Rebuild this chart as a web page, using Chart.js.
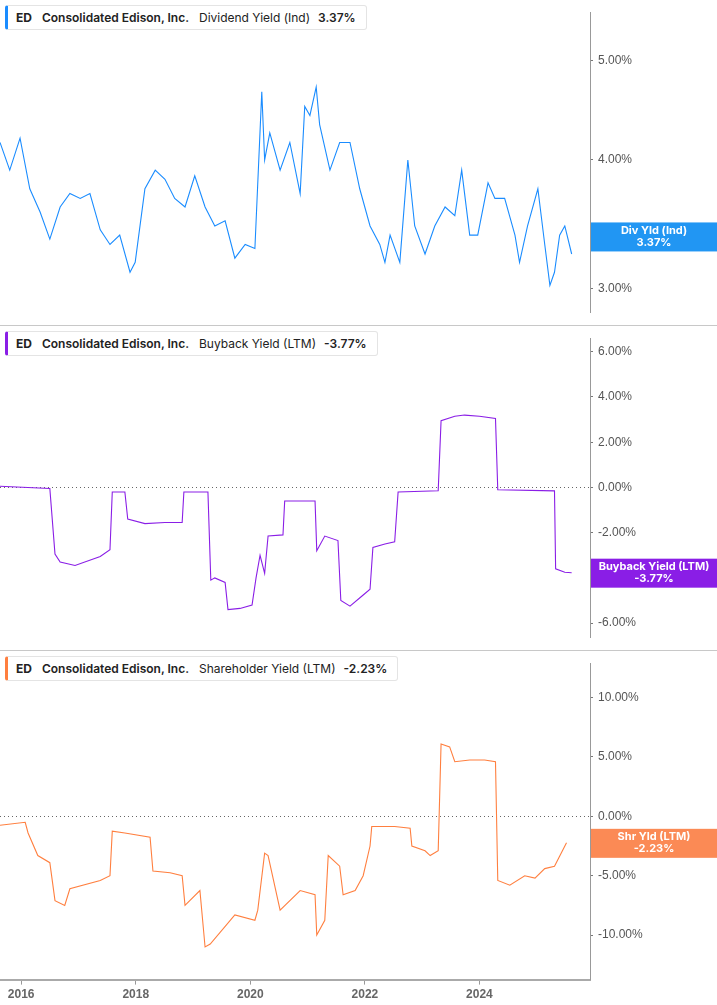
<!DOCTYPE html>
<html>
<head>
<meta charset="utf-8">
<script src="https://cdn.jsdelivr.net/npm/chart.js@4"></script>
<style>
  body { margin: 0; background: #fff; font-family: Inter, "Noto Sans", sans-serif; }
  .panel { position: relative; width: 717px; }
  .sep { border-top: 1px solid #c8c8c8; }
  .legend { position: absolute; left: 5px; top: 5px; background: #fff; border: 1px solid #e4e4e4;
    border-left: 3px solid; border-radius: 3px; padding: 4px 10px 4px 8px; font-size: 12px; color: #222; white-space: nowrap; }
  .legend b { font-weight: 700; margin-right: 10px; }
  .legend .co { font-weight: 600; margin-right: 10px; }
  .legend .m { margin-right: 8px; }
  .legend .v { font-weight: 600; }
</style>
</head>
<body>
<div class="panel"><canvas id="c1"></canvas>
  <div class="legend" style="border-left-color:#1a8cff"><b>ED</b><span class="co">Consolidated Edison, Inc.</span><span class="m">Dividend Yield (Ind)</span><span class="v">3.37%</span></div></div>
<div class="panel sep"><canvas id="c2"></canvas>
  <div class="legend" style="border-left-color:#8a1ee6"><b>ED</b><span class="co">Consolidated Edison, Inc.</span><span class="m">Buyback Yield (LTM)</span><span class="v">-3.77%</span></div></div>
<div class="panel sep"><canvas id="c3"></canvas>
  <div class="legend" style="border-left-color:#ff7f3f"><b>ED</b><span class="co">Consolidated Edison, Inc.</span><span class="m">Shareholder Yield (LTM)</span><span class="v">-2.23%</span></div></div>
<script>
// decimal years and yields (%)
const divYears = [2015.63,2015.80,2015.98,2016.15,2016.33,2016.50,2016.68,2016.85,2017.03,2017.20,2017.38,2017.55,2017.72,2017.90,2017.99,2018.16,2018.34,2018.51,2018.68,2018.86,2019.03,2019.21,2019.38,2019.56,2019.73,2019.91,2020.08,2020.20,2020.25,2020.34,2020.52,2020.69,2020.87,2020.95,2021.04,2021.15,2021.21,2021.39,2021.56,2021.74,2021.91,2022.09,2022.26,2022.35,2022.44,2022.61,2022.75,2022.87,2023.05,2023.22,2023.40,2023.57,2023.69,2023.83,2023.97,2024.15,2024.27,2024.44,2024.62,2024.70,2024.84,2025.02,2025.14,2025.23,2025.31,2025.40,2025.49,2025.61];
const divYield = [4.16,3.91,4.20,3.75,3.56,3.35,3.60,3.71,3.67,3.71,3.42,3.31,3.38,3.11,3.18,3.75,3.91,3.83,3.67,3.60,3.86,3.60,3.45,3.49,3.21,3.31,3.28,4.66,4.00,4.25,3.91,4.16,3.71,4.51,4.42,4.71,4.33,3.91,4.16,4.16,3.75,3.45,3.31,3.18,3.38,3.18,4.00,3.45,3.24,3.45,3.60,3.53,3.91,3.38,3.38,3.80,3.67,3.67,3.38,3.18,3.45,3.75,3.31,3.02,3.11,3.38,3.45,3.24];

const bbYears = [2015.63,2016.50,2016.59,2016.68,2016.94,2017.38,2017.55,2017.59,2017.81,2017.86,2018.16,2018.51,2018.81,2018.84,2019.26,2019.31,2019.38,2019.56,2019.61,2019.82,2020.03,2020.10,2020.17,2020.25,2020.31,2020.57,2020.60,2021.13,2021.16,2021.30,2021.53,2021.58,2021.74,2021.95,2022.09,2022.14,2022.35,2022.52,2022.58,2023.28,2023.33,2023.57,2023.74,2024.00,2024.28,2024.32,2025.31,2025.33,2025.49,2025.61];
const bbYield = [0.05,-0.05,-2.95,-3.3,-3.45,-3.05,-2.75,-0.2,-0.2,-1.4,-1.6,-1.55,-1.55,-0.2,-0.2,-4.1,-4.0,-4.2,-5.4,-5.35,-5.2,-4.0,-3.0,-3.8,-2.15,-2.1,-0.6,-0.6,-2.8,-2.15,-2.35,-5.0,-5.25,-4.8,-4.5,-2.65,-2.5,-2.4,-0.2,-0.15,2.95,3.15,3.2,3.15,3.05,-0.1,-0.15,-3.6,-3.75,-3.77];

const shYears = [2015.63,2016.07,2016.12,2016.29,2016.50,2016.59,2016.76,2016.85,2017.38,2017.55,2017.59,2017.81,2018.25,2018.30,2018.60,2018.81,2018.86,2019.12,2019.21,2019.30,2019.73,2020.08,2020.13,2020.25,2020.31,2020.52,2020.87,2021.13,2021.16,2021.30,2021.36,2021.56,2021.62,2021.83,2021.97,2022.09,2022.12,2022.52,2022.79,2022.82,2023.05,2023.14,2023.28,2023.33,2023.48,2023.57,2023.83,2024.09,2024.28,2024.32,2024.53,2024.79,2024.97,2025.14,2025.31,2025.52];
const shYield = [-0.75,-0.5,-1.4,-3.3,-3.9,-7.1,-7.5,-6.1,-5.4,-5.0,-1.25,-1.4,-1.75,-4.6,-4.75,-5.0,-7.5,-6.25,-11.0,-10.75,-8.3,-8.75,-7.9,-3.1,-3.3,-7.9,-6.25,-6.6,-10.0,-8.75,-3.3,-4.2,-6.6,-6.25,-5.0,-2.5,-0.85,-0.85,-1.0,-2.5,-2.9,-3.3,-2.9,6.1,5.85,4.6,4.75,4.75,4.6,-5.4,-5.8,-5.0,-5.2,-4.4,-4.2,-2.23];

const yearTicks = [2016, 2018, 2020, 2022, 2024];
const xMin = 2015.63, xMax = 2025.93;

function pts(xs, ys) { return xs.map((x, i) => ({x: x, y: ys[i]})); }

// dotted zero line + last value box on the axis
const lastBox = {
  id: 'lastBox',
  beforeDatasetsDraw(chart, args, o) {
    if (!o.zero) return;
    const c = chart.ctx, y = Math.round(chart.scales.y.getPixelForValue(0)) + 0.5;
    c.save();
    c.strokeStyle = '#666';
    c.lineWidth = 1;
    c.setLineDash([1, 3]);
    c.beginPath(); c.moveTo(0, y); c.lineTo(chart.chartArea.right, y); c.stroke();
    c.restore();
  },
  afterDraw(chart, args, o) {
    const c = chart.ctx, y = chart.scales.y.getPixelForValue(o.value);
    const left = chart.chartArea.right + 1;
    c.save();
    c.fillStyle = o.color;
    c.fillRect(left, y - 14, chart.width - left, 29);
    c.fillStyle = '#fff';
    c.font = 'bold 11px Inter, sans-serif';
    c.textAlign = 'center';
    c.textBaseline = 'middle';
    const cx = (left + chart.width) / 2;
    c.fillText(o.title, cx, y - 6);
    c.fillText(o.text, cx, y + 6);
    c.restore();
  }
};

function makeChart(id, height, data, color, yopt, box, showX) {
  const cv = document.getElementById(id);
  cv.style.width = '717px'; cv.style.height = height + 'px';
  cv.width = 717; cv.height = height;
  return new Chart(cv, {
    type: 'line',
    data: { datasets: [{ data: data, borderColor: color, borderWidth: 1.1, pointRadius: 0, tension: 0 }] },
    plugins: [lastBox],
    options: {
      responsive: false, animation: false,
      layout: { padding: 0, autoPadding: false },
      plugins: { legend: false, tooltip: false, lastBox: box },
      scales: {
        x: {
          type: 'linear', min: xMin, max: xMax, display: showX,
          afterBuildTicks: s => { s.ticks = yearTicks.map(v => ({value: v})); },
          grid: { drawOnChartArea: false, tickLength: 5, tickColor: '#999' },
          border: { color: '#aaa', width: 2 },
          ticks: { color: '#666', font: { size: 12, weight: 'bold' }, callback: v => String(v), maxRotation: 0 }
        },
        y: Object.assign({
          position: 'right',
          afterFit: s => { s.width = 127; },
          border: { color: '#999' },
          grid: { drawOnChartArea: false, tickColor: '#777', tickLength: 3 },
          ticks: { color: '#555', font: { size: 12 }, padding: 5, callback: v => v.toFixed(2) + '%' }
        }, yopt)
      }
    }
  });
}

makeChart('c1', 325, pts(divYears, divYield), '#1a8cff',
  { type: 'logarithmic', min: 2.84, max: 5.57,
    afterBuildTicks: s => { s.ticks = [3, 4, 5].map(v => ({value: v})); } },
  { value: 3.37, color: '#2196f3', title: 'Div Yld (Ind)', text: '3.37%' }, false);

makeChart('c2', 324, pts(bbYears, bbYield), '#8a1ee6',
  { min: -6.65, max: 6.6, afterBuildTicks: s => { s.ticks = [-6, -4, -2, 0, 2, 4, 6].map(v => ({value: v})); } },
  { value: -3.77, color: '#8a1ee6', title: 'Buyback Yield (LTM)', text: '-3.77%', zero: true }, false);

makeChart('c3', 354, pts(shYears, shYield), '#ff7f3f',
  { min: -13.75, max: 12.9, afterBuildTicks: s => { s.ticks = [-10, -5, 0, 5, 10].map(v => ({value: v})); } },
  { value: -2.23, color: '#fb8a55', title: 'Shr Yld (LTM)', text: '-2.23%', zero: true }, true);
</script>
</body>
</html>
